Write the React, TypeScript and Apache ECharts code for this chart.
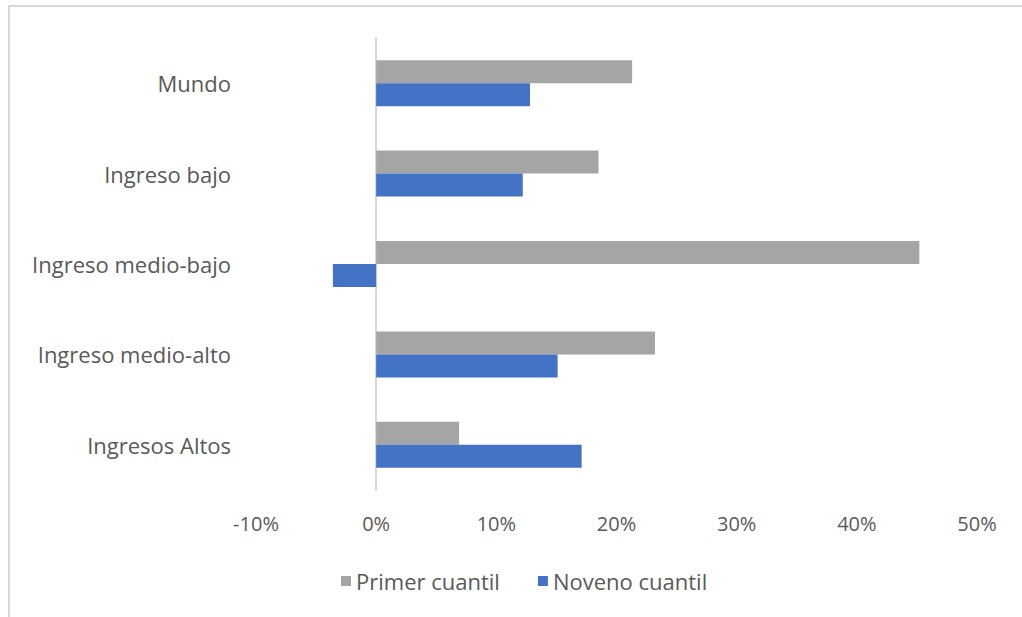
import React, { useEffect, useRef } from "react";
import * as echarts from "echarts";

const categories = ["Mundo", "Ingreso bajo", "Ingreso medio-bajo", "Ingreso medio-alto", "Ingresos Altos"];
const primerCuantil = [21.3, 18.5, 45.2, 23.2, 6.9];
const novenoCuantil = [12.8, 12.2, -3.6, 15.1, 17.1];
const seriesNames = ["Primer cuantil", "Noveno cuantil"];
const xMin = -10;
const xMax = 50;
const xInterval = 10;

const FONT = "'Open Sans', 'Noto Sans', sans-serif";
const TEXT = "#595959";

export default function App() {
  const ref = useRef<HTMLDivElement>(null);
  useEffect(() => {
    document.body.style.margin = "0";
    const chart = echarts.init(ref.current!, undefined, { renderer: "svg" });
    chart.setOption({
      animation: false,
      backgroundColor: "#ffffff",
      textStyle: { fontFamily: FONT },
      graphic: [
        {
          type: "rect",
          shape: { x: 9, y: 6, width: 1100, height: 700 },
          style: { fill: "none", stroke: "#d9d9d9", lineWidth: 2 },
          silent: true,
        },
      ],
      grid: {
        left: 256,
        right: 45,
        top: 38,
        bottom: 127,
        containLabel: false,
        outerBoundsMode: "none",
      },
      legend: {
        data: seriesNames,
        left: 336,
        top: 565,
        icon: "rect",
        itemWidth: 10,
        itemHeight: 10,
        itemGap: 38,
        textStyle: { fontFamily: FONT, fontSize: 22, color: TEXT },
      },
      xAxis: {
        type: "value",
        min: xMin,
        max: xMax,
        interval: xInterval,
        axisLine: { show: false },
        axisTick: { show: false },
        splitLine: { show: false },
        axisLabel: {
          formatter: (v: number) => `${v}%`,
          fontFamily: FONT,
          fontSize: 20,
          color: TEXT,
          margin: 23,
        },
      },
      yAxis: {
        type: "category",
        data: categories,
        inverse: true,
        axisLine: { show: true, onZero: true, lineStyle: { color: "#d9d9d9", width: 2 } },
        axisTick: { show: false },
        axisLabel: {
          fontFamily: FONT,
          fontSize: 22,
          color: TEXT,
          margin: 25,
        },
      },
      series: [
        {
          name: seriesNames[0],
          type: "bar",
          data: primerCuantil,
          barWidth: 23,
          barGap: "0%",
          itemStyle: { color: "#a5a5a5" },
        },
        {
          name: seriesNames[1],
          type: "bar",
          data: novenoCuantil,
          barWidth: 23,
          barGap: "0%",
          itemStyle: { color: "#4472c4" },
        },
      ],
    });
    return () => chart.dispose();
  }, []);
  return <div ref={ref} style={{ width: 1022, height: 617 }} />;
}
